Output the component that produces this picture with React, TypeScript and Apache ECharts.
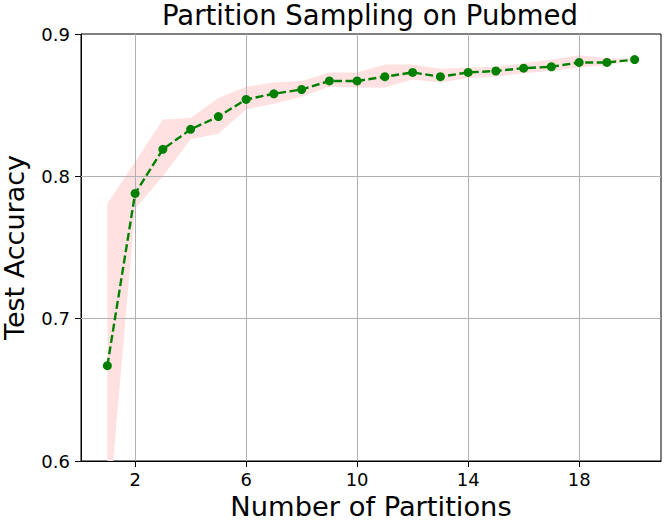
import React, { useEffect, useRef } from "react";
import * as echarts from "echarts";

const partitions = [1, 2, 3, 4, 5, 6, 7, 8, 9, 10, 11, 12, 13, 14, 15, 16, 17, 18, 19, 20];
const meanAcc = [0.667, 0.788, 0.819, 0.833, 0.842, 0.854, 0.858, 0.861, 0.867, 0.867, 0.870, 0.873, 0.870, 0.873, 0.874, 0.876, 0.877, 0.880, 0.880, 0.882];
const upperAcc = [0.781, 0.810, 0.840, 0.841, 0.855, 0.863, 0.866, 0.867, 0.873, 0.873, 0.8785, 0.8785, 0.8755, 0.8765, 0.877, 0.8795, 0.882, 0.885, 0.883, 0.8828];
const lowerAcc = [0.553, 0.777, 0.800, 0.826, 0.830, 0.847, 0.851, 0.856, 0.863, 0.8625, 0.8625, 0.868, 0.866, 0.869, 0.870, 0.8725, 0.874, 0.8764, 0.878, 0.8818];
const xTicks = [2, 6, 10, 14, 18];
const yTicks = [0.7, 0.8];

const FONT = "DejaVu Sans";

export default function App() {
  const ref = useRef<HTMLDivElement>(null);
  useEffect(() => {
    if (!ref.current) return;
    const chart = echarts.init(ref.current, undefined, { renderer: "svg" });
    const gridStyle = { color: "#b0b0b0", width: 1, type: "solid" as const };
    chart.setOption({
      animation: false,
      backgroundColor: "#ffffff",
      graphic: [
        {
          type: "text",
          left: 371 - 209,
          top: 1,
          style: {
            text: "Partition Sampling on Pubmed",
            fontFamily: FONT,
            fontSize: 27.5,
            fill: "#000",
          },
        },
      ],
      grid: {
        left: 81,
        right: 4,
        top: 34,
        bottom: 61,
        show: true,
        borderColor: "#000",
        borderWidth: 1,
        backgroundColor: "transparent",
        containLabel: false,
        outerBoundsMode: "none",
      },
      xAxis: {
        type: "value",
        min: 0.05,
        max: 20.95,
        name: "Number of Partitions",
        nameLocation: "middle",
        nameGap: 30,
        nameTextStyle: { fontFamily: FONT, fontSize: 27.3, color: "#000" },
        axisLine: { show: true, lineStyle: { color: "#000", width: 1 } },
        axisTick: { show: true, customValues: xTicks, length: 6, lineStyle: { color: "#000" } },
        axisLabel: { customValues: xTicks, fontFamily: FONT, fontSize: 18, color: "#000", margin: 9 },
        splitLine: { show: false },
      },
      yAxis: {
        type: "value",
        min: 0.6,
        max: 0.9,
        interval: 0.1,
        name: "Test Accuracy",
        nameLocation: "middle",
        nameGap: 54,
        nameTextStyle: { fontFamily: FONT, fontSize: 27, lineHeight: 26, color: "#000" },
        axisLine: { show: true, lineStyle: { color: "#000", width: 1 } },
        axisTick: { show: true, length: 6, lineStyle: { color: "#000" } },
        axisLabel: {
          fontFamily: FONT,
          fontSize: 18,
          color: "#000",
          margin: 11,
          formatter: (v: number) => v.toFixed(1),
        },
        splitLine: { show: false },
      },
      series: [
        {
          name: "band",
          type: "custom",
          clip: true,
          silent: true,
          z: 1,
          data: partitions.map((x, i) => [x, upperAcc[i], lowerAcc[i]]),
          encode: { x: 0, y: [1, 2] },
          renderItem: (params: any, api: any) => {
            if (params.dataIndex !== 0) return null;
            const pts: number[][] = [];
            for (let i = 0; i < partitions.length; i++) {
              pts.push(api.coord([partitions[i], upperAcc[i]]));
            }
            for (let i = partitions.length - 1; i >= 0; i--) {
              pts.push(api.coord([partitions[i], lowerAcc[i]]));
            }
            return {
              type: "polygon",
              shape: { points: pts },
              style: { fill: "#ffe1e1", stroke: "none" },
            };
          },
        },
        {
          name: "grid",
          type: "line",
          data: partitions.map((x, i) => [x, meanAcc[i]]),
          symbol: "none",
          lineStyle: { opacity: 0 },
          silent: true,
          z: 2,
          markLine: {
            silent: true,
            symbol: "none",
            label: { show: false },
            lineStyle: gridStyle,
            data: [
              ...xTicks.map((v) => ({ xAxis: v })),
              ...yTicks.map((v) => ({ yAxis: v })),
            ],
          },
        },
        {
          name: "mean",
          type: "line",
          data: partitions.map((x, i) => [x, meanAcc[i]]),
          symbol: "circle",
          symbolSize: 9,
          itemStyle: { color: "#008000" },
          lineStyle: { color: "#008000", width: 2.4, type: [8, 3.5] },
          z: 5,
        },
      ],
    });
    return () => chart.dispose();
  }, []);
  return (
    <div
      ref={ref}
      style={{ position: "fixed", left: 0, top: 0, width: 665, height: 522 }}
    />
  );
}
